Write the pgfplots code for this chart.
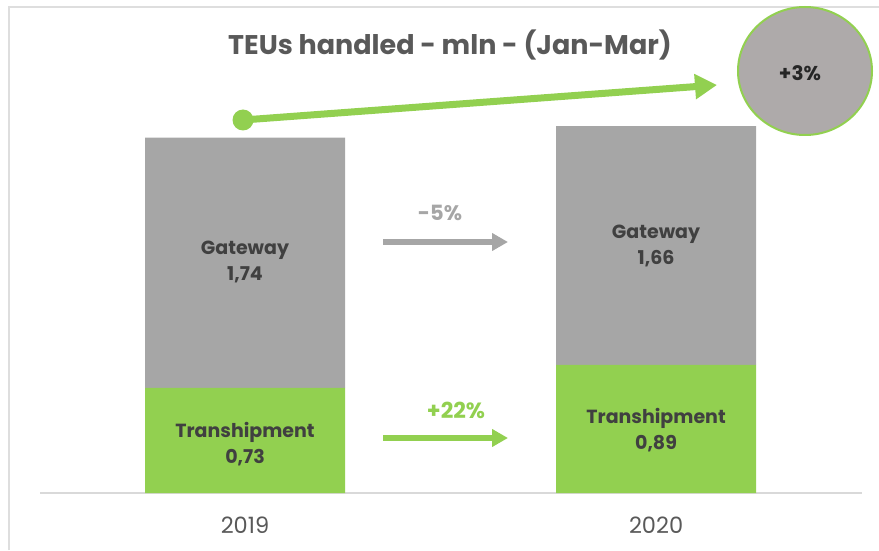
\documentclass[border=0pt]{standalone}
\usepackage{pgfplots}
\pgfplotsset{compat=1.18}
\usepackage{fontspec}
\setmainfont{Poppins}
\usetikzlibrary{arrows.meta}
\definecolor{gw}{HTML}{A6A6A6}
\definecolor{tg}{HTML}{92D050}
\definecolor{ttl}{HTML}{595959}
\definecolor{lbl}{HTML}{404040}
\definecolor{circ}{HTML}{AEAAAA}
\begin{document}
\begin{tikzpicture}[x=1pt,y=1pt]
\path[use as bounding box] (0,0) rectangle (879,550);
\draw[color=black!13, line width=2pt] (9,0) -- (9,543) -- (879,543);
\begin{axis}[
  at={(40pt,57pt)}, anchor=south west,
  scale only axis, width=822pt, height=431.7pt,
  xmin=-0.4988, xmax=1.501, ymin=0, ymax=3,
  ybar stacked, bar width=200pt,
  axis y line=none, axis x line*=bottom,
  x axis line style={draw=black!15, line width=1.5pt, -},
  xtick={0,1}, xticklabels={2019,2020},
  xtick style={draw=none},
  xticklabel style={font=\fontsize{22.5}{22.5}\selectfont, text=ttl, anchor=base, yshift=-40pt, inner sep=0pt},
  clip=false,
]
\addplot[fill=tg, draw=none] coordinates {(0,0.73) (1,0.89)};
\addplot[fill=gw, draw=none] coordinates {(0,1.74) (1,1.66)};
\coordinate (g19) at (axis cs:0,1.605);
\coordinate (g20) at (axis cs:1,1.715);
\coordinate (t19) at (axis cs:0,0.34);
\coordinate (t20) at (axis cs:1,0.438);
\end{axis}
\tikzset{barlbl/.style={align=center, text=lbl, font=\fontsize{19}{26}\selectfont\bfseries}}
\node[barlbl] at (g19) {Gateway\\1,74};
\node[barlbl] at (g20) {Gateway\\1,66};
\node[barlbl] at (t19) {Transhipment\\0,73};
\node[barlbl] at (t20) {Transhipment\\0,89};
% title
\node[text=ttl, font=\fontsize{27}{27}\selectfont\bfseries] at (450,505) {TEUs handled - mln - (Jan-Mar)};
% small arrows
\draw[gw, line width=6pt, -{Triangle[length=16pt,width=17pt]}] (383,308) -- (508,308);
\node[text=gw, font=\fontsize{21}{21}\selectfont\bfseries] at (440,337) {-5\%};
\draw[tg, line width=6pt, -{Triangle[length=16pt,width=17pt]}] (383,112) -- (508,112);
\node[text=tg, font=\fontsize{22}{22}\selectfont\bfseries] at (456,140) {+22\%};
% big arrow
\draw[tg, line width=7pt, -{Triangle[length=22pt,width=24pt]}] (243,430) -- (717,465);
\fill[tg] (243,430) circle (10.5);
\draw[tg, line width=2pt, fill=circ] (805,479) ellipse (67 and 64);
\node[text=black!85, font=\fontsize{20}{20}\selectfont\bfseries] at (800,477) {+3\%};
\end{tikzpicture}
\end{document}
